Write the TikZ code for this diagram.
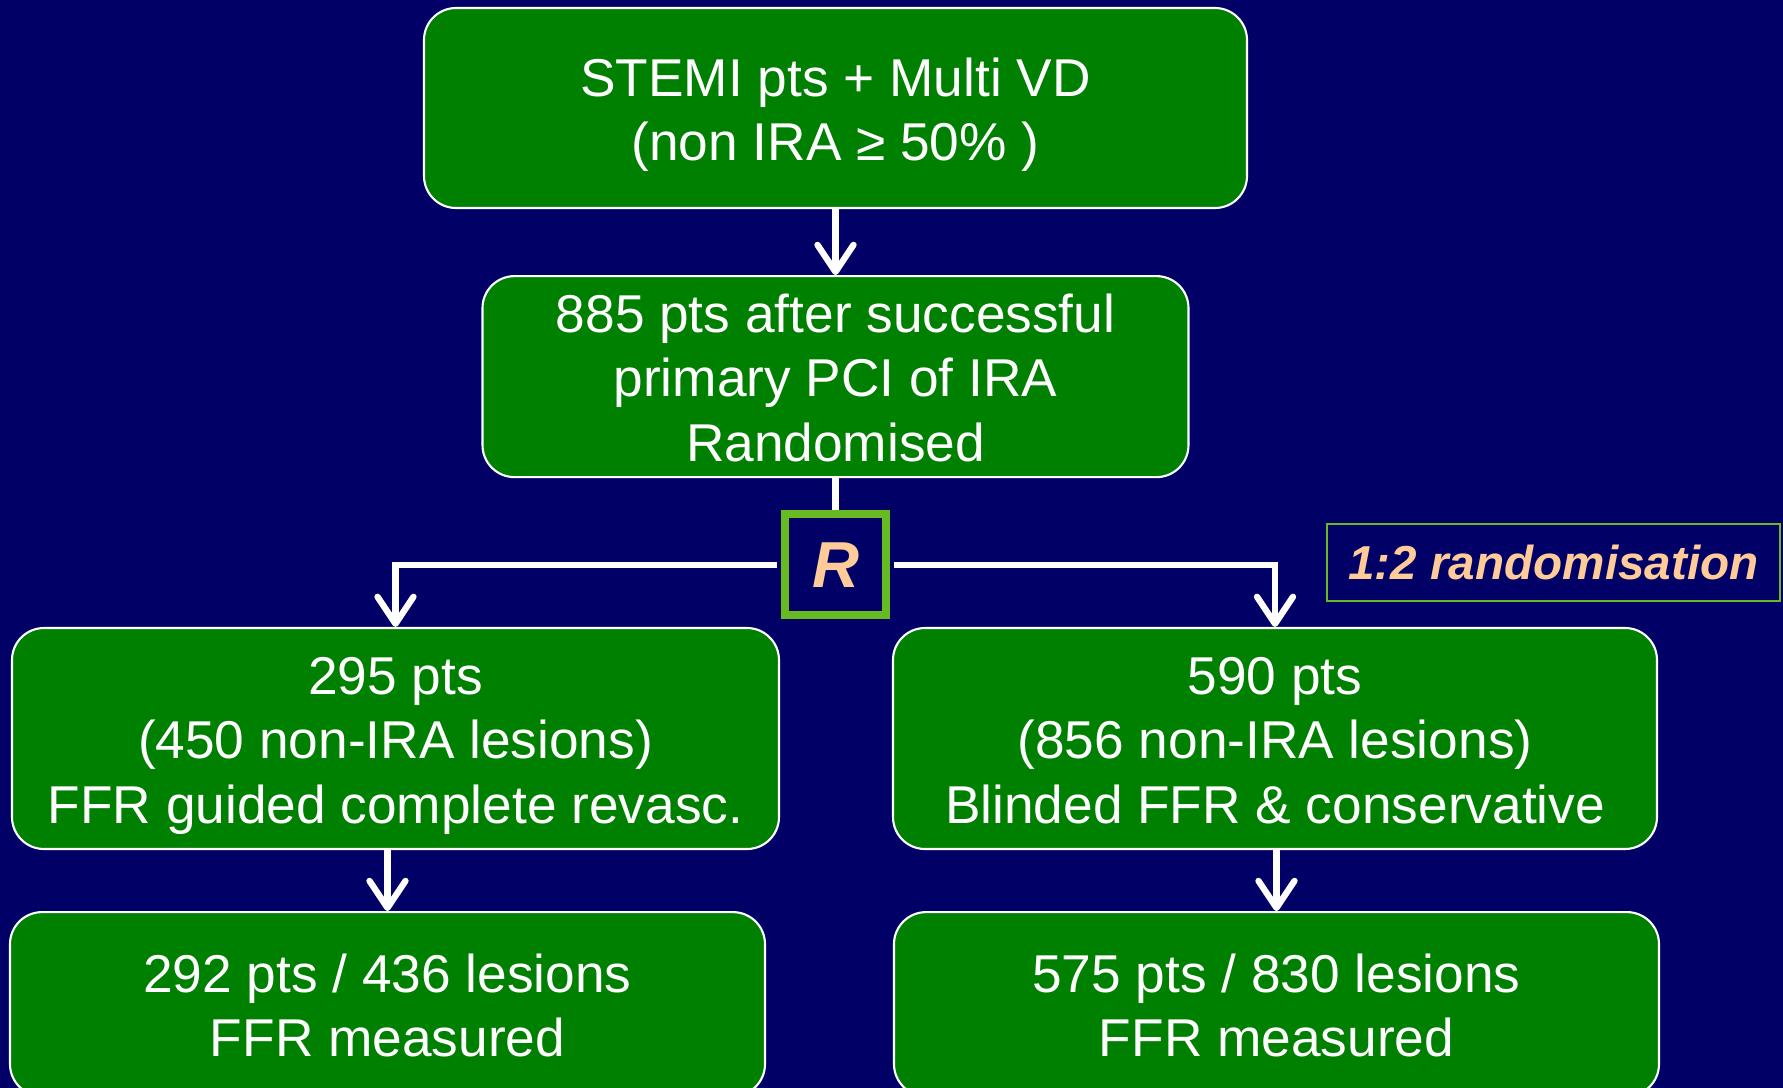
\documentclass[tikz,border=0pt]{standalone}
\usepackage{fontspec}
\setmainfont{Liberation Sans}
\usetikzlibrary{positioning,arrows.meta}

\definecolor{navybg}{HTML}{000066}
\definecolor{boxgreen}{HTML}{008000}
\definecolor{rgreen}{HTML}{66BB22}
\definecolor{peach}{HTML}{FFCC99}

% fixed line struts, so every box places its lines alike
\newcommand{\tstr}{\rule{0pt}{15pt}}
\newcommand{\bstr}{\rule[-3.5pt]{0pt}{0pt}}

\begin{document}
\begin{tikzpicture}[
  >={Straight Barb[round,length=2.7mm,width=3.6mm]},
  node distance=6.6mm,
  box/.style={draw=white, line width=0.6pt, fill=boxgreen, rounded corners=3.2mm, text=white,
    align=center, inner sep=0pt, font=\fontsize{15.15}{18.3}\selectfont},
  link/.style={draw=white, line width=1.8pt},
  arr/.style={link, ->}
]
  \fill[navybg] (0,0) rectangle (17.83,-10.88);
  \useasboundingbox (0,0) rectangle (17.83,-10.88);

  \node[box, minimum width=82.3mm, minimum height=20mm] (stemi) at (8.355,-1.08)
    {\tstr STEMI pts + Multi VD\\(non IRA ≥ 50\% )\bstr};
  \node[box, minimum width=70.6mm, minimum height=20.1mm, below=of stemi] (rand)
    {\tstr 885 pts after successful\\primary PCI of IRA\\Randomised\bstr};
  \node[draw=rgreen, line width=2.3pt, minimum size=10.1mm, inner sep=0pt, below=3.2mm of rand,
    text=peach, font=\fontsize{18.5}{20}\selectfont\bfseries\itshape] (rsq) {R};
  \node[draw=rgreen, line width=0.7pt, minimum width=45.3mm, minimum height=7.7mm,
    text=peach, font=\fontsize{13.55}{15}\selectfont\bfseries\itshape] (ratio) at (15.535,-5.625)
    {1:2 randomisation};

  \node[box, minimum width=76.7mm, minimum height=22.1mm] (ffrg) at (3.955,-7.385)
    {\tstr 295 pts\\(450 non-IRA lesions)\\FFR guided complete revasc.\bstr};
  \node[box, minimum width=76.4mm, minimum height=22.1mm] (cons) at (12.75,-7.385)
    {\tstr 590 pts\\(856 non-IRA lesions)\\Blinded FFR \& conservative\bstr};
  \node[box, minimum width=75.5mm, minimum height=18.4mm, below=6.1mm of ffrg, xshift=-0.8mm] (measg)
    {\tstr 292 pts / 436 lesions\\FFR measured\bstr};
  \node[box, minimum width=76.5mm, minimum height=18.4mm, below=6.1mm of cons, xshift=0.15mm] (measc)
    {\tstr 575 pts / 830 lesions\\FFR measured\bstr};

  \draw[arr] (stemi) -- (rand);
  \draw[link] (rand) -- (rsq);
  \draw[arr, shorten <=1.2pt] (rsq.west) -| (ffrg.north);
  \draw[arr, shorten <=1.2pt] (rsq.east) -| (cons.north);
  \draw[arr] (measg.north |- ffrg.south) -- (measg.north);
  \draw[arr] (measc.north |- cons.south) -- (measc.north);
\end{tikzpicture}
\end{document}
